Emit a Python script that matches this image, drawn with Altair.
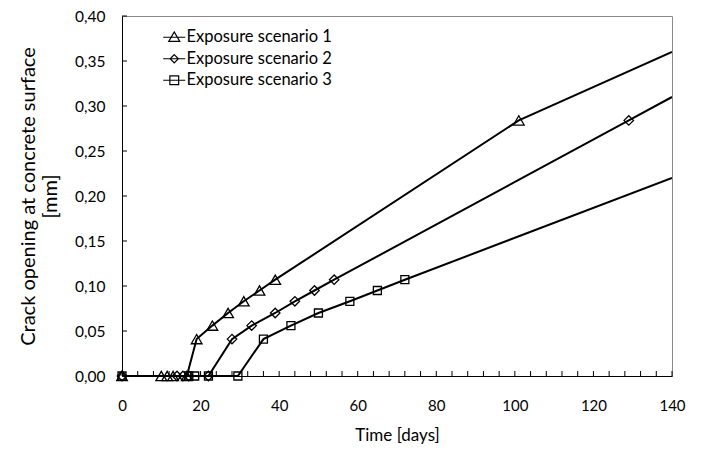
import altair as alt
import pandas as pd

series_names = ["Exposure scenario 1", "Exposure scenario 2", "Exposure scenario 3"]

s1_days = [0, 10, 11.5, 13, 16.5, 19, 23, 27, 31, 35, 39, 101, 140]
s1_open = [0, 0, 0, 0, 0, 0.041, 0.056, 0.070, 0.083, 0.095, 0.107, 0.284, 0.360]
s1_mark = [True] * 12 + [False]

s2_days = [0, 14, 15.5, 17, 22, 28, 33, 39, 44, 49, 54, 129, 140]
s2_open = [0, 0, 0, 0, 0, 0.041, 0.056, 0.070, 0.083, 0.095, 0.107, 0.284, 0.310]
s2_mark = [True] * 12 + [False]

s3_days = [0, 17, 18.5, 22, 29.5, 36, 43, 50, 58, 65, 72, 140]
s3_open = [0, 0, 0, 0, 0, 0.041, 0.056, 0.070, 0.083, 0.095, 0.107, 0.220]
s3_mark = [True] * 11 + [False]

y_ticks = [0, 0.05, 0.10, 0.15, 0.20, 0.25, 0.30, 0.35, 0.40]
x_ticks = [0, 20, 40, 60, 80, 100, 120, 140]
x_minor = list(range(0, 141, 4))

rows = []
for name, d, o, m in zip(series_names, [s1_days, s2_days, s3_days],
                         [s1_open, s2_open, s3_open], [s1_mark, s2_mark, s3_mark]):
    for a, b, c in zip(d, o, m):
        rows.append({"series": name, "day": a, "opening": b, "marker": c})
df = pd.DataFrame(rows)

W, H = 550, 360
FONT = "Lato"

xscale = alt.Scale(domain=[0, 140], nice=False, zero=False)
yscale = alt.Scale(domain=[0, 0.40], nice=False)

x_enc = alt.X("day:Q", scale=xscale, axis=alt.Axis(
    values=x_ticks, title="Time [days]", ticks=False, grid=False,
    labelPadding=22, titlePadding=14, domainColor="black", labelFlush=False,
    labelFont=FONT, labelFontSize=15, labelColor="black",
    titleFont=FONT, titleFontSize=17, titleFontWeight="normal", titleColor="black"))
y_enc = alt.Y("opening:Q", scale=yscale, axis=alt.Axis(
    values=y_ticks, title=["Crack opening at concrete surface", "[mm]"],
    ticks=False, grid=False, labelPadding=17, titlePadding=14,
    domainColor="black",
    labelFont=FONT, labelFontSize=15.5, labelColor="black",
    titleFont=FONT, titleFontSize=20, titleFontWeight="normal", titleColor="black",
    titleLineHeight=22,
    labelExpr="replace(format(datum.value, '.2f'), '.', ',')"))

base = alt.Chart(df)

lines = base.mark_line(color="black", strokeWidth=2, clip=True).encode(
    x=x_enc, y=y_enc, detail="series:N", order="day:Q")

points = base.transform_filter("datum.marker").mark_point(
    filled=False, color="black", strokeWidth=1.3, opacity=1).encode(
    x=alt.X("day:Q", scale=xscale),
    y=alt.Y("opening:Q", scale=yscale),
    shape=alt.Shape("series:N", scale=alt.Scale(domain=series_names,
                    range=["triangle-up", "diamond", "square"]), legend=None),
    size=alt.Size("series:N", scale=alt.Scale(domain=series_names,
                  range=[115, 64, 100]), legend=None))

legend_paths = [
    "M-2,0L2,0M-1,0.75L1,0.75L0,-0.95Z",
    "M-2,0L2,0M0,-0.75L0.75,0L0,0.75L-0.75,0Z",
    "M-2,0L2,0M-0.8,-0.8L0.8,-0.8L0.8,0.8L-0.8,0.8Z",
]
legend_layer = base.transform_filter("datum.day < 0").mark_point(
    filled=False, color="black", strokeWidth=1.2, opacity=1).encode(
    x=alt.X("day:Q", scale=xscale),
    y=alt.Y("opening:Q", scale=yscale),
    shape=alt.Shape("series:N", scale=alt.Scale(domain=series_names, range=legend_paths),
                    legend=alt.Legend(title=None, orient="none", legendX=44, legendY=13,
                                      labelFont=FONT, labelFontSize=16.5, labelColor="black",
                                      symbolSize=121, symbolStrokeWidth=1.2,
                                      symbolStrokeColor="black", symbolFillColor="transparent",
                                      rowPadding=4.5, labelOffset=4, padding=0)))

ytick_df = pd.DataFrame({"v": y_ticks})
xtick_df = pd.DataFrame({"v": x_minor})

yt = alt.Chart(ytick_df).mark_rule(color="black", strokeWidth=1).encode(
    y=alt.Y("v:Q", scale=yscale), x=alt.value(0), x2=alt.value(5))
xt = alt.Chart(xtick_df).mark_rule(color="black", strokeWidth=1).encode(
    x=alt.X("v:Q", scale=xscale), y=alt.value(H), y2=alt.value(H - 5))

chart = alt.layer(lines, points, legend_layer, yt, xt).resolve_scale(
    shape="independent", size="independent").properties(
    width=W, height=H,
    autosize=alt.AutoSizeParams(type="none"),
    padding={"left": 114, "top": 8, "right": 20, "bottom": 76},
    background="white",
).configure_view(stroke="#8a8a8a", strokeWidth=1).configure_axis(
    labelFont=FONT, labelFontSize=15, labelColor="black",
    titleFont=FONT, titleFontSize=18, titleFontWeight="normal", titleColor="black",
    domainWidth=1,
)

chart.save("out.html", embed_options={"renderer": "svg", "actions": False})
